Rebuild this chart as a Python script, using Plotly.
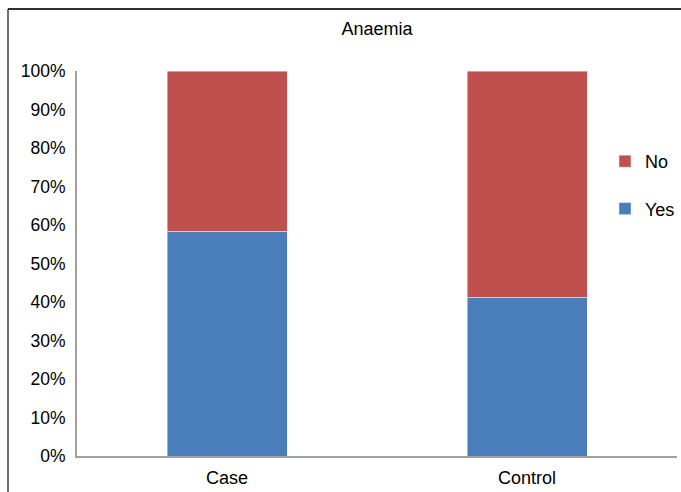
import plotly.graph_objects as go

categories = ["Case", "Control"]
yes_values = [0.584, 0.413]
no_values = [0.416, 0.587]
y_tick_vals = [0, 0.1, 0.2, 0.3, 0.4, 0.5, 0.6, 0.7, 0.8, 0.9, 1.0]
y_tick_text = ["0%", "10%", "20%", "30%", "40%", "50%", "60%", "70%", "80%", "90%", "100%"]

fig = go.Figure()
fig.add_trace(go.Bar(x=categories, y=yes_values, name="Yes", marker_color="#4A7EBB",
                     width=0.4, legendgroup="yes", legendrank=2))
fig.add_trace(go.Bar(x=categories, y=no_values, name="No", marker_color="#C0504D",
                     width=0.4, legendgroup="no", legendrank=1))

W, H = 681, 492
ml, mr, mt, mb = 77, 4, 71, 36
pw, ph = W - ml - mr, H - mt - mb

def px_x(x):
    return (x - ml) / pw

def px_y(y):
    return (H - mb - y) / ph

fig.update_layout(
    width=W, height=H,
    barmode="stack",
    margin=dict(l=ml, r=mr, t=mt, b=mb, autoexpand=False),
    paper_bgcolor="white", plot_bgcolor="white",
    font=dict(family="Liberation Sans, Arial, sans-serif", size=18, color="#000000"),
    title=dict(text="Anaemia", xref="container", x=377 / W, xanchor="center",
               yref="container", y=1 - 29 / H, yanchor="middle", font=dict(size=18)),
    showlegend=True,
    legend=dict(xref="container", x=605 / W, xanchor="left",
                yref="container", y=1 - 143 / H, yanchor="top",
                traceorder="grouped", tracegroupgap=21, font=dict(size=18),
                bgcolor="rgba(0,0,0,0)", itemwidth=30),
    xaxis=dict(showline=True, linecolor="#A0A0A0", linewidth=2, ticks="", showgrid=False,
               range=[-0.5, 1.5], tickfont=dict(size=18), ticklabelstandoff=4),
    yaxis=dict(range=[0, 1], tickvals=y_tick_vals, ticktext=y_tick_text, showline=True,
               linecolor="#A0A0A0", linewidth=2, ticks="", showgrid=False, zeroline=False,
               ticklabelstandoff=6, tickfont=dict(size=17.5)),
    shapes=[
        dict(type="line", xref="paper", yref="paper", x0=px_x(8), x1=px_x(8),
             y0=px_y(9), y1=px_y(H + 5), line=dict(color="#404040", width=1.5)),
        dict(type="line", xref="paper", yref="paper", x0=px_x(8), x1=px_x(W + 5),
             y0=px_y(9), y1=px_y(9), line=dict(color="#303030", width=2)),
    ],
)

fig.write_html("out.html", config={"displayModeBar": False},
               post_script="document.body.style.margin='0';document.body.style.overflow='hidden';")
